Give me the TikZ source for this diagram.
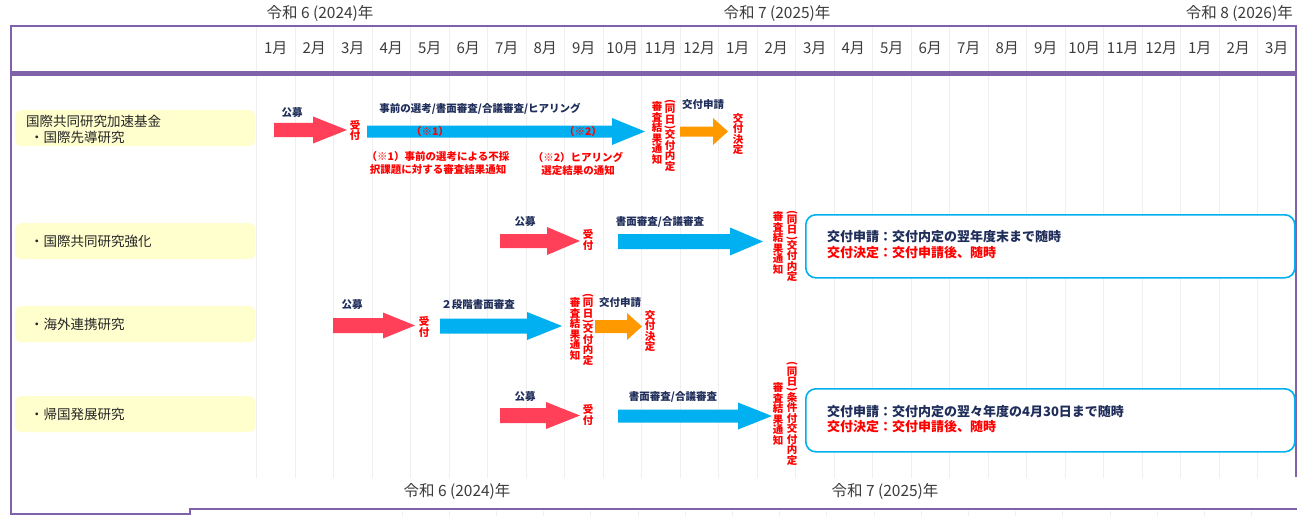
\documentclass[tikz,border=0pt]{standalone}
\usepackage{fontspec}
\usepackage{graphicx}
\setmainfont{Noto Sans CJK JP}
\definecolor{framec}{RGB}{128,98,170}
\definecolor{gridc}{RGB}{239,239,239}
\definecolor{navy}{RGB}{31,45,90}
\definecolor{redA}{RGB}{255,64,88}
\definecolor{blueA}{RGB}{0,176,240}
\definecolor{orangeA}{RGB}{255,153,0}
\definecolor{txtred}{RGB}{255,0,0}
\definecolor{ylw}{RGB}{255,255,206}
\definecolor{hdr}{RGB}{60,60,60}
\definecolor{labc}{RGB}{38,38,38}
\newcommand\vpo{\rotatebox[origin=c]{-90}{(}}
\newcommand\vpc{\rotatebox[origin=c]{-90}{)}}
\newcommand\blkarrow[7]{\fill[#1] ({#2},{#5-#6}) -- ({#3},{#5-#6}) -- ({#3},{#5-#7}) -- ({#4},{#5}) -- ({#3},{#5+#7}) -- ({#3},{#5+#6}) -- ({#2},{#5+#6}) -- cycle;}
\begin{document}
\begin{tikzpicture}[x=1pt,y=-1pt,
  nv/.style={text=navy,font=\fontsize{10.5}{12}\selectfont\bfseries,inner sep=0pt},
  rd/.style={text=txtred,font=\fontsize{10.5}{13}\selectfont\bfseries,inner sep=0pt,align=center},
  vc/.style={text=txtred,font=\fontsize{10.5}{10.5}\selectfont\bfseries,inner sep=0pt,align=center},
  ylab/.style={fill=ylw,rounded corners=6pt,draw=none,anchor=north west,minimum width=240pt,minimum height=36pt,inner sep=0pt},
  lab/.style={text=labc,font=\fontsize{13.5}{15}\selectfont,anchor=west,inner sep=0pt},
  yr/.style={text=hdr,font=\fontsize{15.5}{17}\selectfont,inner sep=0pt},
  mon/.style={text=hdr,font=\fontsize{15}{17}\selectfont,inner sep=0pt},
  infobox/.style={draw=blueA,line width=1.6pt,rounded corners=10pt,fill=white,anchor=north west,minimum width=489pt,minimum height=63pt,inner sep=0pt},
  boxt/.style={font=\fontsize{13}{15}\selectfont\bfseries,anchor=west,inner sep=0pt}
]
\useasboundingbox (0,0) rectangle (1297,516);
\fill[white] (0,0) rectangle (1297,516);
% grid
\foreach \k in {0,...,26} \draw[gridc,line width=1pt] ({256.5+38.5*\k},26) -- ({256.5+38.5*\k},478);
\foreach \k in {0,...,18} \draw[gridc,line width=1pt] ({402+47.2*\k},511) -- ({402+47.2*\k},516);
% frame
\draw[framec,line width=2pt] (11,26) rectangle (1296,72);
\draw[framec,line width=4pt] (11,74) -- (1296,74);
\draw[framec,line width=2.5pt] (11,26) -- (11,514) -- (190,514) -- (190,509) -- (1297,509);
\draw[framec,line width=2.5pt] (1296,26) -- (1296,477);
% months
\foreach \m [count=\i from 0] in {1,2,3,4,5,6,7,8,9,10,11,12,1,2,3,4,5,6,7,8,9,10,11,12,1,2,3}
  \node[mon] (m\i) at ({256.5+38.5*(\i+0.5)},48) {\m 月};
% years
\node[yr] (y1) at (320,13) {令和 6 (2024)年};
\node[yr] (y2) at (777,13) {令和 7 (2025)年};
\node[yr,anchor=east] (y3) at (1293,13) {令和 8 (2026)年};
\node[yr] (y4) at (457,491) {令和 6 (2024)年};
\node[yr] (y5) at (885,491) {令和 7 (2025)年};
% row labels
\node[ylab] (b1) at (15,110) {};
\node[ylab] (b2) at (15,223) {};
\node[ylab] (b3) at (15,306) {};
\node[ylab] (b4) at (15,396) {};
\node[lab] (l1a) at (26,121) {国際共同研究加速基金};
\node[lab] (l1b) at (30,137) {・国際先導研究};
\node[lab] (l2) at (30,241) {・国際共同研究強化};
\node[lab] (l3) at (30,324) {・海外連携研究};
\node[lab] (l4) at (30,414) {・帰国発展研究};
% row 1
\blkarrow{redA}{274}{313}{347}{130}{7}{13.5}
\blkarrow{blueA}{367}{612}{645}{131.5}{6}{13.5}
\blkarrow{orangeA}{680}{713}{728}{131.5}{5}{13.5}
\node[nv] (p1) at (292,113) {公募};
\node[vc] (u1) at (355,130.5) {受\\付};
\node[nv] (s1) at (480,109) {事前の選考/書面審査/合議審査/ヒアリング};
\node[rd] (m1) at (430,132) {（※1）};
\node[rd] (m2) at (583,132) {（※2）};
\node[rd] (n1) at (438,163.5) {（※1）事前の選考による不採\\択課題に対する審査結果通知};
\node[rd] (n2) at (578,163.5) {（※2）ヒアリング\\選定結果の通知};
\node[vc] (r1a) at (670,135.5) {\vpo\\[-2.7pt]同\\日\\[-2.7pt]\vpc\\[-2.7pt]交\\付\\内\\定};
\node[vc] (r1b) at (657,133) {審\\査\\結\\果\\通\\知};
\node[nv] (a1) at (703,105) {交付申請};
\node[vc] (k1) at (738,134) {交\\付\\決\\定};
% row 2
\blkarrow{redA}{500}{547}{580}{241}{7}{14}
\blkarrow{blueA}{618}{730}{763}{241.5}{7.5}{14}
\node[nv] (p2) at (525,222) {公募};
\node[vc] (u2) at (588,240) {受\\付};
\node[nv] (s2) at (660,222) {書面審査/合議審査};
\node[vc] (r2a) at (792,246) {\vpo\\[-2.7pt]同\\日\\[-2.7pt]\vpc\\[-2.7pt]交\\付\\内\\定};
\node[vc] (r2b) at (778,243) {審\\査\\結\\果\\通\\知};
\node[infobox] (ib1) at (805,214) {};
\node[boxt,text=navy] (ib1a) at (827,237) {交付申請：交付内定の翌年度末まで随時};
\node[boxt,text=txtred] (ib1b) at (827,253) {交付決定：交付申請後、随時};
% row 3
\blkarrow{redA}{333}{383}{415}{325.5}{7.5}{13}
\blkarrow{blueA}{440}{527}{562}{326}{7.5}{14}
\blkarrow{orangeA}{595}{627}{642}{326.5}{6.5}{13.5}
\node[nv] (p3) at (352,305) {公募};
\node[vc] (u3) at (424,327) {受\\付};
\node[nv] (s3) at (478,305) {２段階書面審査};
\node[vc] (r3a) at (588,329.5) {\vpo\\[-2.7pt]同\\日\\[-2.7pt]\vpc\\[-2.7pt]交\\付\\内\\定};
\node[vc] (r3b) at (575,329) {審\\査\\結\\果\\通\\知};
\node[nv] (a3) at (620,303) {交付申請};
\node[vc] (k3) at (650,331) {交\\付\\決\\定};
% row 4
\blkarrow{redA}{500}{546}{580}{415.5}{7.5}{13.5}
\blkarrow{blueA}{618}{738}{772}{416}{6.5}{13.5}
\node[nv] (p4) at (525,397) {公募};
\node[vc] (u4) at (588,415) {受\\付};
\node[nv] (s4) at (673,397) {書面審査/合議審査};
\node[vc] (r4a) at (792,413.5) {\vpo\\[-2.7pt]同\\日\\[-2.7pt]\vpc\\[-2.7pt]条\\件\\付\\交\\付\\内\\定};
\node[vc] (r4b) at (778,414) {審\\査\\結\\果\\通\\知};
\node[infobox] (ib2) at (805,388) {};
\node[boxt,text=navy] (ib2a) at (827,412) {交付申請：交付内定の翌々年度の4月30日まで随時};
\node[boxt,text=txtred] (ib2b) at (827,427) {交付決定：交付申請後、随時};
\end{tikzpicture}
\end{document}
